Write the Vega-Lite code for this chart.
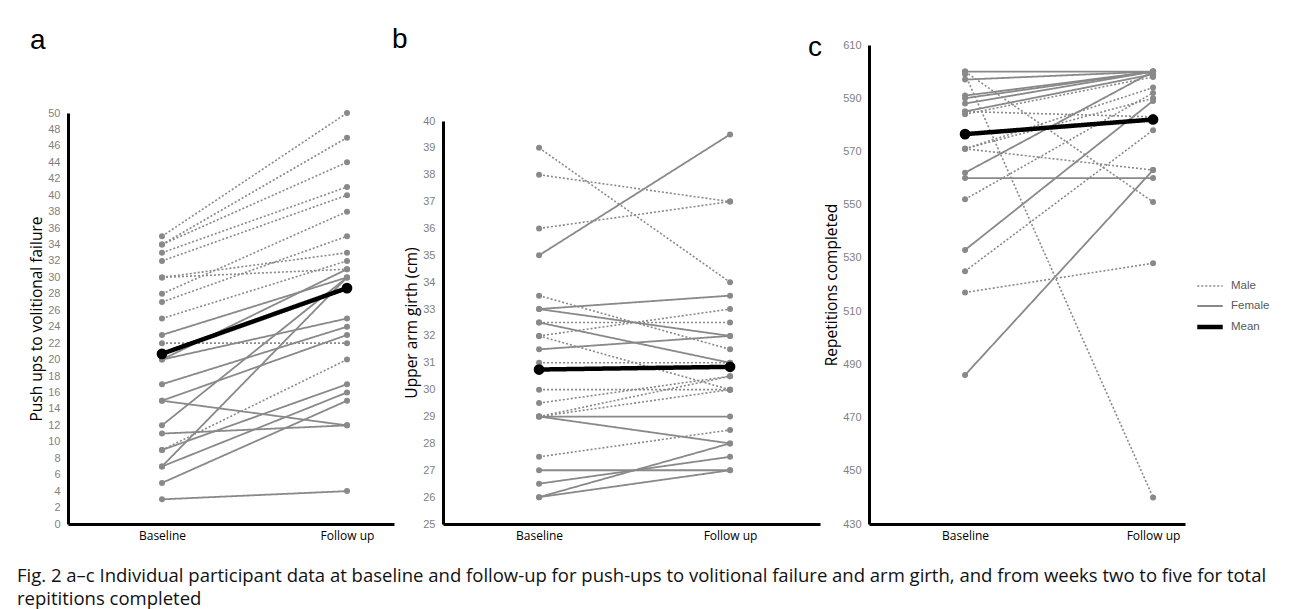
{
  "$schema": "https://vega.github.io/schema/vega-lite/v6.json",
  "autosize": {"type": "pad"},
  "padding": {"left": 17, "top": 26, "right": 5, "bottom": 5},
  "bounds": "flush",
  "spacing": 49,
  "background": "white",
  "title": {
    "text": ["Fig. 2  a–c Individual participant data at baseline and follow-up for push-ups to volitional failure and arm girth, and from weeks two to five for total", "repititions completed"],
    "orient": "bottom", "anchor": "start", "frame": "group", "dx": -51, "offset": 26,
    "font": "Open Sans", "fontSize": 18.5, "fontWeight": "normal", "color": "#111111", "lineHeight": 23, "baseline": "top"
  },
  "datasets": {
    "pts": [
      {"p":"a","id":"a1","g":"Male","t":0,"v":35},{"p":"a","id":"a1","g":"Male","t":1,"v":50},
      {"p":"a","id":"a2","g":"Male","t":0,"v":34},{"p":"a","id":"a2","g":"Male","t":1,"v":47},
      {"p":"a","id":"a3","g":"Male","t":0,"v":34},{"p":"a","id":"a3","g":"Male","t":1,"v":44},
      {"p":"a","id":"a4","g":"Male","t":0,"v":33},{"p":"a","id":"a4","g":"Male","t":1,"v":41},
      {"p":"a","id":"a5","g":"Male","t":0,"v":32},{"p":"a","id":"a5","g":"Male","t":1,"v":40},
      {"p":"a","id":"a6","g":"Male","t":0,"v":30},{"p":"a","id":"a6","g":"Male","t":1,"v":33},
      {"p":"a","id":"a7","g":"Male","t":0,"v":30},{"p":"a","id":"a7","g":"Male","t":1,"v":31},
      {"p":"a","id":"a8","g":"Male","t":0,"v":28},{"p":"a","id":"a8","g":"Male","t":1,"v":38},
      {"p":"a","id":"a9","g":"Male","t":0,"v":27},{"p":"a","id":"a9","g":"Male","t":1,"v":35},
      {"p":"a","id":"a10","g":"Male","t":0,"v":25},{"p":"a","id":"a10","g":"Male","t":1,"v":32},
      {"p":"a","id":"a11","g":"Male","t":0,"v":22},{"p":"a","id":"a11","g":"Male","t":1,"v":22},
      {"p":"a","id":"a12","g":"Male","t":0,"v":9},{"p":"a","id":"a12","g":"Male","t":1,"v":20},
      {"p":"a","id":"a13","g":"Female","t":0,"v":23},{"p":"a","id":"a13","g":"Female","t":1,"v":30},
      {"p":"a","id":"a14","g":"Female","t":0,"v":20},{"p":"a","id":"a14","g":"Female","t":1,"v":31},
      {"p":"a","id":"a15","g":"Female","t":0,"v":20},{"p":"a","id":"a15","g":"Female","t":1,"v":25},
      {"p":"a","id":"a16","g":"Female","t":0,"v":17},{"p":"a","id":"a16","g":"Female","t":1,"v":24},
      {"p":"a","id":"a17","g":"Female","t":0,"v":15},{"p":"a","id":"a17","g":"Female","t":1,"v":23},
      {"p":"a","id":"a18","g":"Female","t":0,"v":15},{"p":"a","id":"a18","g":"Female","t":1,"v":12},
      {"p":"a","id":"a19","g":"Female","t":0,"v":12},{"p":"a","id":"a19","g":"Female","t":1,"v":30},
      {"p":"a","id":"a20","g":"Female","t":0,"v":11},{"p":"a","id":"a20","g":"Female","t":1,"v":12},
      {"p":"a","id":"a21","g":"Female","t":0,"v":9},{"p":"a","id":"a21","g":"Female","t":1,"v":17},
      {"p":"a","id":"a22","g":"Female","t":0,"v":7},{"p":"a","id":"a22","g":"Female","t":1,"v":30},
      {"p":"a","id":"a23","g":"Female","t":0,"v":7},{"p":"a","id":"a23","g":"Female","t":1,"v":16},
      {"p":"a","id":"a24","g":"Female","t":0,"v":5},{"p":"a","id":"a24","g":"Female","t":1,"v":15},
      {"p":"a","id":"a25","g":"Female","t":0,"v":3},{"p":"a","id":"a25","g":"Female","t":1,"v":4},
      {"p":"a","id":"am","g":"Mean","t":0,"v":20.7},{"p":"a","id":"am","g":"Mean","t":1,"v":28.7},

      {"p":"b","id":"b1","g":"Male","t":0,"v":39},{"p":"b","id":"b1","g":"Male","t":1,"v":34},
      {"p":"b","id":"b2","g":"Male","t":0,"v":38},{"p":"b","id":"b2","g":"Male","t":1,"v":37},
      {"p":"b","id":"b3","g":"Male","t":0,"v":36},{"p":"b","id":"b3","g":"Male","t":1,"v":37},
      {"p":"b","id":"b4","g":"Male","t":0,"v":33.5},{"p":"b","id":"b4","g":"Male","t":1,"v":31.5},
      {"p":"b","id":"b5","g":"Male","t":0,"v":32.5},{"p":"b","id":"b5","g":"Male","t":1,"v":32.5},
      {"p":"b","id":"b6","g":"Male","t":0,"v":32},{"p":"b","id":"b6","g":"Male","t":1,"v":33},
      {"p":"b","id":"b7","g":"Male","t":0,"v":32},{"p":"b","id":"b7","g":"Male","t":1,"v":30},
      {"p":"b","id":"b8","g":"Male","t":0,"v":31},{"p":"b","id":"b8","g":"Male","t":1,"v":31},
      {"p":"b","id":"b9","g":"Male","t":0,"v":30},{"p":"b","id":"b9","g":"Male","t":1,"v":30},
      {"p":"b","id":"b10","g":"Male","t":0,"v":29.5},{"p":"b","id":"b10","g":"Male","t":1,"v":30.5},
      {"p":"b","id":"b11","g":"Male","t":0,"v":29},{"p":"b","id":"b11","g":"Male","t":1,"v":30.5},
      {"p":"b","id":"b12","g":"Male","t":0,"v":29},{"p":"b","id":"b12","g":"Male","t":1,"v":30},
      {"p":"b","id":"b13","g":"Male","t":0,"v":27.5},{"p":"b","id":"b13","g":"Male","t":1,"v":28.5},
      {"p":"b","id":"b14","g":"Female","t":0,"v":35},{"p":"b","id":"b14","g":"Female","t":1,"v":39.5},
      {"p":"b","id":"b15","g":"Female","t":0,"v":33},{"p":"b","id":"b15","g":"Female","t":1,"v":33.5},
      {"p":"b","id":"b16","g":"Female","t":0,"v":33},{"p":"b","id":"b16","g":"Female","t":1,"v":32},
      {"p":"b","id":"b17","g":"Female","t":0,"v":32.5},{"p":"b","id":"b17","g":"Female","t":1,"v":31},
      {"p":"b","id":"b18","g":"Female","t":0,"v":31.5},{"p":"b","id":"b18","g":"Female","t":1,"v":32},
      {"p":"b","id":"b19","g":"Female","t":0,"v":29},{"p":"b","id":"b19","g":"Female","t":1,"v":29},
      {"p":"b","id":"b20","g":"Female","t":0,"v":29},{"p":"b","id":"b20","g":"Female","t":1,"v":28},
      {"p":"b","id":"b21","g":"Female","t":0,"v":27},{"p":"b","id":"b21","g":"Female","t":1,"v":27},
      {"p":"b","id":"b22","g":"Female","t":0,"v":26.5},{"p":"b","id":"b22","g":"Female","t":1,"v":27.5},
      {"p":"b","id":"b23","g":"Female","t":0,"v":26},{"p":"b","id":"b23","g":"Female","t":1,"v":28},
      {"p":"b","id":"b24","g":"Female","t":0,"v":26},{"p":"b","id":"b24","g":"Female","t":1,"v":27},
      {"p":"b","id":"bm","g":"Mean","t":0,"v":30.75},{"p":"b","id":"bm","g":"Mean","t":1,"v":30.85},

      {"p":"c","id":"c1","g":"Male","t":0,"v":600},{"p":"c","id":"c1","g":"Male","t":1,"v":551},
      {"p":"c","id":"c2","g":"Male","t":0,"v":599},{"p":"c","id":"c2","g":"Male","t":1,"v":440},
      {"p":"c","id":"c3","g":"Male","t":0,"v":585},{"p":"c","id":"c3","g":"Male","t":1,"v":583},
      {"p":"c","id":"c4","g":"Male","t":0,"v":584},{"p":"c","id":"c4","g":"Male","t":1,"v":598},
      {"p":"c","id":"c5","g":"Male","t":0,"v":571},{"p":"c","id":"c5","g":"Male","t":1,"v":594},
      {"p":"c","id":"c6","g":"Male","t":0,"v":571},{"p":"c","id":"c6","g":"Male","t":1,"v":590},
      {"p":"c","id":"c7","g":"Male","t":0,"v":571},{"p":"c","id":"c7","g":"Male","t":1,"v":563},
      {"p":"c","id":"c8","g":"Male","t":0,"v":552},{"p":"c","id":"c8","g":"Male","t":1,"v":592},
      {"p":"c","id":"c9","g":"Male","t":0,"v":525},{"p":"c","id":"c9","g":"Male","t":1,"v":578},
      {"p":"c","id":"c10","g":"Male","t":0,"v":517},{"p":"c","id":"c10","g":"Male","t":1,"v":528},
      {"p":"c","id":"c11","g":"Female","t":0,"v":600},{"p":"c","id":"c11","g":"Female","t":1,"v":600},
      {"p":"c","id":"c12","g":"Female","t":0,"v":597},{"p":"c","id":"c12","g":"Female","t":1,"v":600},
      {"p":"c","id":"c13","g":"Female","t":0,"v":591},{"p":"c","id":"c13","g":"Female","t":1,"v":600},
      {"p":"c","id":"c14","g":"Female","t":0,"v":590},{"p":"c","id":"c14","g":"Female","t":1,"v":600},
      {"p":"c","id":"c15","g":"Female","t":0,"v":588},{"p":"c","id":"c15","g":"Female","t":1,"v":600},
      {"p":"c","id":"c16","g":"Female","t":0,"v":585},{"p":"c","id":"c16","g":"Female","t":1,"v":599},
      {"p":"c","id":"c17","g":"Female","t":0,"v":562},{"p":"c","id":"c17","g":"Female","t":1,"v":600},
      {"p":"c","id":"c18","g":"Female","t":0,"v":560},{"p":"c","id":"c18","g":"Female","t":1,"v":560},
      {"p":"c","id":"c19","g":"Female","t":0,"v":533},{"p":"c","id":"c19","g":"Female","t":1,"v":589},
      {"p":"c","id":"c20","g":"Female","t":0,"v":486},{"p":"c","id":"c20","g":"Female","t":1,"v":563},
      {"p":"c","id":"cm","g":"Mean","t":0,"v":576.5},{"p":"c","id":"cm","g":"Mean","t":1,"v":582}
    ]
  },
  "data": {"name": "pts"},
  "hconcat": [
    {
      "width": 326, "height": 479,
      "title": {"text": "a", "dx": -38, "dy": 14},
      "transform": [{"filter": "datum.p == 'a'"}],
      "encoding": {
        "x": {"field": "t", "type": "quantitative", "scale": {"domain": [-0.508, 1.254], "nice": false, "zero": false},
              "axis": {"values": [0, 1], "labelExpr": "datum.value == 0 ? 'Baseline' : 'Follow up'", "title": null}},
        "y": {"field": "v", "type": "quantitative", "scale": {"domain": [0, 50], "range": [479, 68], "nice": false, "zero": false},
              "axis": {"values": [0,2,4,6,8,10,12,14,16,18,20,22,24,26,28,30,32,34,36,38,40,42,44,46,48,50], "title": "Push ups to volitional failure"}},
        "color": {"field": "g", "type": "nominal", "scale": {"domain": ["Male","Female","Mean"], "range": ["#898989","#898989","#000000"]}, "legend": {"title": null, "symbolType": "stroke", "symbolSize": 650}}
      },
      "layer": [
        {"mark": {"type": "line"},
         "encoding": {"detail": {"field": "id"},
           "strokeDash": {"field": "g", "type": "nominal", "scale": {"domain": ["Male","Female","Mean"], "range": [[2,2],[1,0],[1,0]]}, "legend": {"title": null, "symbolType": "stroke", "symbolSize": 650}},
           "strokeWidth": {"field": "g", "type": "nominal", "scale": {"type": "ordinal", "domain": ["Male","Female","Mean"], "range": [1.6,1.8,4.5]}, "legend": {"title": null, "symbolType": "stroke", "symbolSize": 650}}}},
        {"transform": [{"filter": "datum.g != 'Mean'"}], "mark": {"type": "point", "filled": true, "opacity": 1, "size": 36}},
        {"transform": [{"filter": "datum.g == 'Mean'"}], "mark": {"type": "point", "filled": true, "opacity": 1, "size": 115}}
      ]
    },
    {
      "width": 377, "height": 479,
      "title": {"text": "b", "dx": -51, "dy": 13},
      "transform": [{"filter": "datum.p == 'b'"}],
      "encoding": {
        "x": {"field": "t", "type": "quantitative", "scale": {"domain": [-0.503, 1.471], "nice": false, "zero": false},
              "axis": {"values": [0, 1], "labelExpr": "datum.value == 0 ? 'Baseline' : 'Follow up'", "title": null}},
        "y": {"field": "v", "type": "quantitative", "scale": {"domain": [25, 40], "range": [479, 76], "nice": false, "zero": false},
              "axis": {"values": [25,26,27,28,29,30,31,32,33,34,35,36,37,38,39,40], "title": "Upper arm girth (cm)"}},
        "color": {"field": "g", "type": "nominal", "scale": {"domain": ["Male","Female","Mean"], "range": ["#898989","#898989","#000000"]}, "legend": {"title": null, "symbolType": "stroke", "symbolSize": 650}}
      },
      "layer": [
        {"mark": {"type": "line"},
         "encoding": {"detail": {"field": "id"},
           "strokeDash": {"field": "g", "type": "nominal", "scale": {"domain": ["Male","Female","Mean"], "range": [[2,2],[1,0],[1,0]]}, "legend": {"title": null, "symbolType": "stroke", "symbolSize": 650}},
           "strokeWidth": {"field": "g", "type": "nominal", "scale": {"type": "ordinal", "domain": ["Male","Female","Mean"], "range": [1.6,1.8,4.5]}, "legend": {"title": null, "symbolType": "stroke", "symbolSize": 650}}}},
        {"transform": [{"filter": "datum.g != 'Mean'"}], "mark": {"type": "point", "filled": true, "opacity": 1, "size": 36}},
        {"transform": [{"filter": "datum.g == 'Mean'"}], "mark": {"type": "point", "filled": true, "opacity": 1, "size": 115}}
      ]
    },
    {
      "width": 316, "height": 479,
      "title": {"text": "c", "dx": -61, "dy": 27},
      "transform": [{"filter": "datum.p == 'c'"}],
      "encoding": {
        "x": {"field": "t", "type": "quantitative", "scale": {"domain": [-0.511, 1.17], "nice": false, "zero": false},
              "axis": {"values": [0, 1], "labelExpr": "datum.value == 0 ? 'Baseline' : 'Follow up'", "title": null}},
        "y": {"field": "v", "type": "quantitative", "scale": {"domain": [430, 610], "range": [479, 0], "nice": false, "zero": false},
              "axis": {"values": [430,450,470,490,510,530,550,570,590,610], "title": "Repetitions completed"}},
        "color": {"field": "g", "type": "nominal", "scale": {"domain": ["Male","Female","Mean"], "range": ["#898989","#898989","#000000"]}, "legend": {"title": null, "symbolType": "stroke", "symbolSize": 650}}
      },
      "layer": [
        {"mark": {"type": "line"},
         "encoding": {"detail": {"field": "id"},
           "strokeDash": {"field": "g", "type": "nominal", "scale": {"domain": ["Male","Female","Mean"], "range": [[2,2],[1,0],[1,0]]}, "legend": {"title": null, "symbolType": "stroke", "symbolSize": 650}},
           "strokeWidth": {"field": "g", "type": "nominal", "scale": {"type": "ordinal", "domain": ["Male","Female","Mean"], "range": [1.6,1.8,4.5]}, "legend": {"title": null, "symbolType": "stroke", "symbolSize": 650}}}},
        {"transform": [{"filter": "datum.g != 'Mean'"}], "mark": {"type": "point", "filled": true, "opacity": 1, "size": 36}},
        {"transform": [{"filter": "datum.g == 'Mean'"}], "mark": {"type": "point", "filled": true, "opacity": 1, "size": 115}}
      ]
    }
  ],
  "config": {
    "view": {"stroke": null},
    "title": {"anchor": "start", "frame": "group", "orient": "top", "offset": 0, "baseline": "alphabetic", "fontSize": 28, "fontWeight": "normal", "font": "Liberation Sans", "color": "black"},
    "axis": {"grid": false, "ticks": false, "domainColor": "black", "domainWidth": 3, "labelColor": "#7f7f7f", "labelFont": "Liberation Sans", "labelFontSize": 11, "titleFont": "Open Sans", "titleFontSize": 15.5, "titleFontWeight": "normal", "titleColor": "black"},
    "axisX": {"labelColor": "black", "labelFont": "Open Sans", "labelFontSize": 12, "labelPadding": 6},
    "axisY": {"labelPadding": 8, "titlePadding": 3},
    "legend": {"orient": "none", "legendX": 1127, "legendY": 227, "labelFont": "Liberation Sans", "labelFontSize": 11.5, "labelColor": "#595959", "symbolSize": 650, "rowPadding": -12, "symbolStrokeWidth": 2, "labelOffset": 6}
  }
}
